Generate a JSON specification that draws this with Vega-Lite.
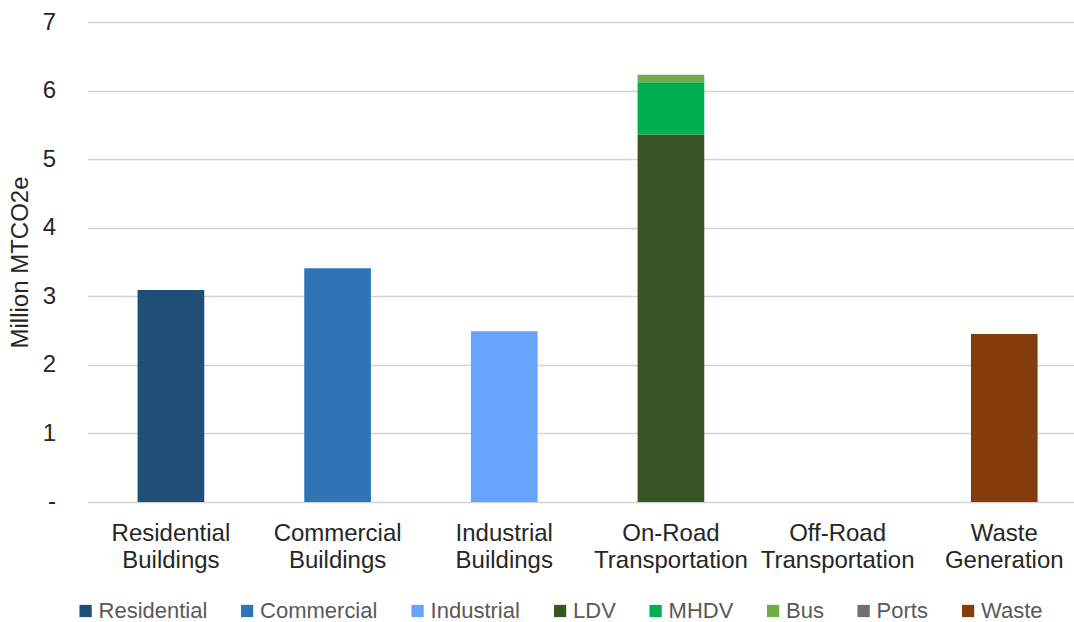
{
  "$schema": "https://vega.github.io/schema/vega-lite/v6.json",
  "width": 1000,
  "height": 480,
  "autosize": {"type": "none"},
  "padding": {"left": 87.6, "top": 22, "right": 0, "bottom": 120},
  "background": "white",
  "config": {
    "font": "Liberation Sans",
    "view": {"stroke": null}
  },
  "data": {
    "values": [
      {"sector": "Residential Buildings", "source": "Residential", "value": 3.09, "ord": 1},
      {"sector": "Commercial Buildings", "source": "Commercial", "value": 3.41, "ord": 1},
      {"sector": "Industrial Buildings", "source": "Industrial", "value": 2.49, "ord": 1},
      {"sector": "On-Road Transportation", "source": "LDV", "value": 5.36, "ord": 1},
      {"sector": "On-Road Transportation", "source": "MHDV", "value": 0.76, "ord": 2},
      {"sector": "On-Road Transportation", "source": "Bus", "value": 0.11, "ord": 3},
      {"sector": "Off-Road Transportation", "source": "Ports", "value": 0, "ord": 1},
      {"sector": "Waste Generation", "source": "Waste", "value": 2.45, "ord": 1}
    ]
  },
  "mark": {"type": "bar"},
  "encoding": {
    "x": {
      "field": "sector",
      "type": "nominal",
      "sort": ["Residential Buildings", "Commercial Buildings", "Industrial Buildings", "On-Road Transportation", "Off-Road Transportation", "Waste Generation"],
      "scale": {"paddingInner": 0.6, "paddingOuter": 0.3},
      "axis": {
        "title": null,
        "labelAngle": 0,
        "domain": false,
        "ticks": false,
        "labelFontSize": 24,
        "labelColor": "#262626",
        "labelPadding": 20,
        "labelLineHeight": 27,
        "labelExpr": "split(datum.label, ' ')"
      }
    },
    "y": {
      "field": "value",
      "type": "quantitative",
      "stack": "zero",
      "scale": {"domain": [0, 7], "nice": false},
      "axis": {
        "title": "Million MTCO2e",
        "titleFontSize": 24,
        "titleFontWeight": "normal",
        "titleColor": "#262626",
        "titlePadding": 10,
        "values": [0, 1, 2, 3, 4, 5, 6, 7],
        "labelExpr": "datum.value == 0 ? '-' : datum.label",
        "labelFontSize": 24,
        "labelColor": "#262626",
        "labelPadding": 32,
        "domain": false,
        "ticks": false,
        "gridColor": "#d4d4d4",
        "gridWidth": 1.5
      }
    },
    "color": {
      "field": "source",
      "type": "nominal",
      "scale": {
        "domain": ["Residential", "Commercial", "Industrial", "LDV", "MHDV", "Bus", "Ports", "Waste"],
        "range": ["#1F4E79", "#2E75B6", "#66A3FF", "#375623", "#00B050", "#70AD47", "#6F6F6F", "#843C0C"]
      },
      "legend": {
        "title": null,
        "orient": "none",
        "legendX": -13,
        "legendY": 578,
        "direction": "horizontal",
        "symbolType": "square",
        "symbolSize": 150,
        "symbolStrokeWidth": 0,
        "labelFontSize": 22,
        "labelColor": "#595959",
        "labelOffset": 2,
        "columnPadding": 28.5
      }
    },
    "order": {"field": "ord", "type": "quantitative"}
  }
}
